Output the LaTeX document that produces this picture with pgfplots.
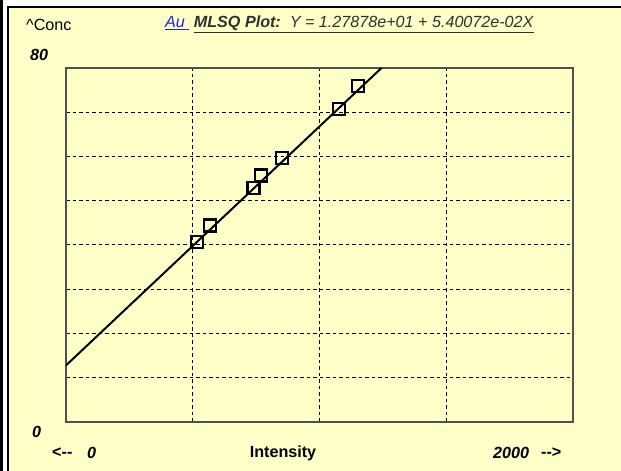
\documentclass[border=0pt]{standalone}
\usepackage{pgfplots}
\pgfplotsset{compat=1.18}
\usepackage{fontspec}
\setmainfont{Liberation Sans}
\definecolor{panel}{HTML}{FFFFC8}
\definecolor{framegray}{HTML}{505050}
\definecolor{aublue}{HTML}{2020E0}
\definecolor{titlegray}{HTML}{303030}

\begin{document}
\begin{tikzpicture}[x=1bp,y=1bp]
\path[use as bounding box, fill=white] (0,0) rectangle (621,471);
\fill[panel] (8,0) rectangle (621,464);
\fill[black] (0,0) rectangle (2.5,471);
\draw[black, line width=2.2bp] (8,0) -- (8,464) -- (621,464);

\begin{axis}[
    at={(66bp,49bp)}, anchor=south west,
    scale only axis, width=507bp, height=354bp,
    xmin=0, xmax=2000, ymin=0, ymax=80,
    xtick={500,1000,1500}, ytick={10,20,...,70},
    xticklabels={}, yticklabels={},
    major tick length=0pt,
    grid=major,
    major grid style={black, dash pattern=on 3.5bp off 3bp, line width=1bp},
    axis line style={framegray, line width=1.3bp},
]
% fitted line Y = 12.7878 + 0.0540072 X
\addplot[black, line width=2bp] coordinates {(0,12.7878) (1244.5,80)};
\addplot[only marks, mark=square, mark size=6bp,
    mark options={black, line width=2.2bp, fill=none}] coordinates {
    (518,40.6) (568,44.4) (740,52.9) (769,55.7)
    (853,59.6) (1077,70.7) (1151,75.9)
};
\end{axis}

\begin{scope}[every node/.style={inner sep=0pt, font=\fontsize{16.2}{17}\selectfont}]
\node[anchor=west] at (26,446) {\textasciicircum Conc};
\node[anchor=west] at (165,447) {{\color{aublue}\underline{\textit{Au\ }}}\ \textcolor{titlegray}{\underline{\textbf{\textit{MLSQ Plot:}}\ \ \textit{Y = 1.27878e+01 + 5.40072e-02X}}}};
\node[anchor=west] at (30,416) {\textbf{\textit{80}}};
\node[anchor=west] at (32,39) {\textbf{\textit{0}}};
\node[anchor=west] at (52,18) {\textbf{<-{}-}};
\node[anchor=west] at (87,18) {\textbf{\textit{0}}};
\node at (283,18) {\textbf{Intensity}};
\node[anchor=west] at (493,18) {\textbf{\textit{2000}}};
\node[anchor=west] at (541,18) {\textbf{-{}->}};
\end{scope}
\end{tikzpicture}
\end{document}
